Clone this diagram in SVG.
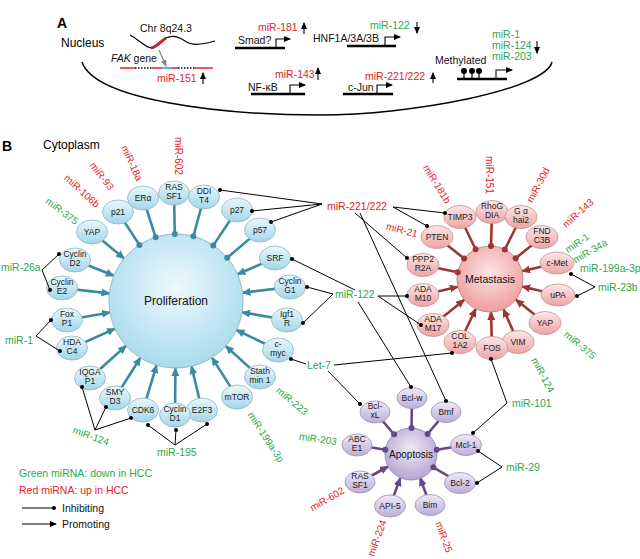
<svg xmlns="http://www.w3.org/2000/svg" width="640" height="559" viewBox="0 0 640 559">
<defs>
<style>
text{font-family:"Liberation Sans",Arial,Helvetica,sans-serif;}
.t{font-size:10.5px;fill:#111}
.mi{font-size:10.5px}
.mr{font-size:10px}
.g{fill:#2ea64e}
.r{fill:#e42228}
.nt{font-size:8.5px;fill:#1a1a1a;text-anchor:middle}
.k{stroke:#000;stroke-width:1;fill:none}
.bar{stroke:#000;stroke-width:2.6}
.pr{stroke:#000;stroke-width:1.1;fill:none}
.sb{stroke:#3b8aa3;stroke-width:2.6;fill:none}
.sp{stroke:#9e3535;stroke-width:2.6;fill:none}
.sv{stroke:#654886;stroke-width:2.6;fill:none}
.nb{fill:url(#lb);stroke:#8fb4c2;stroke-width:0.8}
.np{fill:url(#lp);stroke:#c49090;stroke-width:0.8}
.nv{fill:url(#lv);stroke:#9d8fb8;stroke-width:0.8}
</style>
<linearGradient id="lb" x1="0" y1="0" x2="0" y2="1"><stop offset="0" stop-color="#eaf8fc"/><stop offset="1" stop-color="#a3d6e9"/></linearGradient>
<linearGradient id="lp" x1="0" y1="0" x2="0" y2="1"><stop offset="0" stop-color="#fde8e8"/><stop offset="1" stop-color="#eda3a3"/></linearGradient>
<linearGradient id="lv" x1="0" y1="0" x2="0" y2="1"><stop offset="0" stop-color="#f0ebf7"/><stop offset="1" stop-color="#bcadd7"/></linearGradient>
<radialGradient id="cb" cx="50%" cy="40%" r="60%"><stop offset="0" stop-color="#eef9fd"/><stop offset="1" stop-color="#a9dbee"/></radialGradient>
<radialGradient id="cp" cx="50%" cy="40%" r="60%"><stop offset="0" stop-color="#fde4e4"/><stop offset="1" stop-color="#ef9e9e"/></radialGradient>
<radialGradient id="cv" cx="50%" cy="40%" r="60%"><stop offset="0" stop-color="#efe9f6"/><stop offset="1" stop-color="#b6a6d1"/></radialGradient>
<marker id="aB" markerUnits="userSpaceOnUse" markerWidth="9" markerHeight="8" refX="8" refY="4" orient="auto"><path d="M0,0 L9,4 L0,8 z" fill="#3b8aa3"/></marker>
<marker id="aP" markerUnits="userSpaceOnUse" markerWidth="9" markerHeight="8" refX="8" refY="4" orient="auto"><path d="M0,0 L9,4 L0,8 z" fill="#9e3535"/></marker>
<marker id="aV" markerUnits="userSpaceOnUse" markerWidth="9" markerHeight="8" refX="8" refY="4" orient="auto"><path d="M0,0 L9,4 L0,8 z" fill="#654886"/></marker>
<marker id="aK" markerUnits="userSpaceOnUse" markerWidth="7" markerHeight="6" refX="6" refY="3" orient="auto"><path d="M0,0 L7,3 L0,6 z" fill="#000"/></marker>
<marker id="aG" markerUnits="userSpaceOnUse" markerWidth="7" markerHeight="6" refX="6" refY="3" orient="auto"><path d="M0,0 L7,3 L0,6 z" fill="#888"/></marker>
</defs>
<rect width="640" height="559" fill="#fff"/>

<!-- Panel A -->
<g id="panelA">
<text x="57" y="28" style="font-size:14px;font-weight:bold">A</text>
<text x="61" y="47" style="font-size:12px">Nucleus</text>
<path d="M82,62 C95,100 220,115 320,115 C410,115 545,90 552,62" fill="none" stroke="#000" stroke-width="1.5"/>
<text x="140" y="32" class="t">Chr 8q24.3</text>
<path d="M130,35 C140,40 146,49 153,48 C158,47 162,40 166,38 C172,35 178,36 185,41 C192,46 200,45 215,41" fill="none" stroke="#000" stroke-width="1.2"/>
<path d="M151,48 C157,47 161,41 166,38" fill="none" stroke="#c0272d" stroke-width="3"/>
<line x1="159" y1="50" x2="166" y2="66" stroke="#888" stroke-width="1.2" marker-end="url(#aG)"/>
<text x="111" y="62" class="t"><tspan font-style="italic">FAK</tspan> gene</text>
<g stroke-width="1.5">
<line x1="120" y1="68" x2="135" y2="68" stroke="#e42228"/>
<line x1="135" y1="68" x2="152" y2="68" stroke="#000" stroke-dasharray="1.5,1.5"/>
<line x1="152" y1="68" x2="162" y2="68" stroke="#e42228"/>
<line x1="162" y1="68" x2="172" y2="68" stroke="#3a8fd0"/>
<line x1="172" y1="68" x2="178" y2="68" stroke="#e42228"/>
<line x1="178" y1="68" x2="195" y2="68" stroke="#000" stroke-dasharray="1.5,1.5"/>
<line x1="195" y1="68" x2="213" y2="68" stroke="#e42228"/>
</g>
<text x="157" y="82" class="mi r">miR-151</text>
<line x1="203" y1="84" x2="203" y2="73" class="pr" marker-end="url(#aK)"/>

<text x="258" y="31" class="mi r">miR-181</text>
<line x1="304" y1="34" x2="304" y2="23" class="pr" marker-end="url(#aK)"/>
<text x="238" y="44" class="t">Smad?</text>
<line x1="235" y1="48" x2="285" y2="48" class="bar"/>
<path d="M276,48 V39 H290" class="pr" marker-end="url(#aK)"/>

<text x="370" y="29" class="mi g">miR-122</text>
<line x1="417" y1="22" x2="417" y2="33" class="pr" marker-end="url(#aK)"/>
<text x="313" y="42" class="t">HNF1A/3A/3B</text>
<line x1="347" y1="46" x2="396" y2="46" class="bar"/>
<path d="M385,46 V37 H400" class="pr" marker-end="url(#aK)"/>

<text x="275" y="78" class="mi r">miR-143</text>
<line x1="318" y1="80" x2="318" y2="68" class="pr" marker-end="url(#aK)"/>
<text x="248" y="91" class="t">NF-κB</text>
<line x1="251" y1="94" x2="305" y2="94" class="bar"/>
<path d="M290,94 V85 H305" class="pr" marker-end="url(#aK)"/>

<text x="365" y="80" class="mi r">miR-221/222</text>
<line x1="433" y1="83" x2="433" y2="73" class="pr" marker-end="url(#aK)"/>
<text x="348" y="91" class="t">c-Jun</text>
<line x1="343" y1="94" x2="393" y2="94" class="bar"/>
<path d="M377,94 V85 H392" class="pr" marker-end="url(#aK)"/>

<text x="435" y="64" class="t">Methylated</text>
<line x1="457" y1="79" x2="507" y2="79" class="bar"/>
<g stroke="#000" stroke-width="1.2">
<line x1="464" y1="71" x2="464" y2="79"/><line x1="472" y1="71" x2="472" y2="79"/><line x1="479" y1="71" x2="479" y2="79"/>
</g>
<circle cx="464" cy="71" r="3"/><circle cx="472" cy="71" r="3"/><circle cx="479" cy="71" r="3"/>
<path d="M496,79 V70 H512" class="pr" marker-end="url(#aK)"/>
<text x="492" y="38" class="mi g">miR-1</text>
<text x="492" y="49" class="mi g">miR-124</text>
<text x="492" y="60" class="mi g">miR-203</text>
<line x1="537" y1="41" x2="537" y2="53" class="pr" marker-end="url(#aK)"/>
</g>

<text x="2" y="151" style="font-size:14px;font-weight:bold">B</text>
<text x="43" y="149" style="font-size:12px">Cytoplasm</text>

<!-- spokes -->
<g id="spokes">
<g class="sb">
<line x1="92" y1="232" x2="124.2" y2="258.5" marker-end="url(#aB)"/>
<line x1="118" y1="212" x2="139.4" y2="244.9"/>
<line x1="143" y1="198" x2="155.6" y2="237.2"/>
<line x1="174" y1="193" x2="174.8" y2="234"/>
<line x1="204" y1="197" x2="193.4" y2="236.3"/>
<line x1="237" y1="210" x2="213.3" y2="245.4"/>
<line x1="260" y1="230" x2="227.2" y2="257.8"/>
<line x1="275" y1="258" x2="237.5" y2="274.3" marker-end="url(#aB)"/>
<line x1="290" y1="287" x2="242.5" y2="292.8" marker-end="url(#aB)"/>
<line x1="287" y1="320" x2="242.1" y2="312.3" marker-end="url(#aB)"/>
<line x1="278" y1="350" x2="236.4" y2="330" marker-end="url(#aB)"/>
<line x1="260" y1="377" x2="225.7" y2="346" marker-end="url(#aB)"/>
<line x1="237" y1="397" x2="211.9" y2="357.6" marker-end="url(#aB)"/>
<line x1="202" y1="410" x2="191.5" y2="366.2" marker-end="url(#aB)"/>
<line x1="175" y1="415" x2="175.4" y2="368" marker-end="url(#aB)"/>
<line x1="143" y1="410" x2="156.6" y2="365.1" marker-end="url(#aB)"/>
<line x1="115" y1="398" x2="140.4" y2="357.7" marker-end="url(#aB)"/>
<line x1="90" y1="378" x2="126.1" y2="345.7" marker-end="url(#aB)"/>
<line x1="72" y1="348" x2="115" y2="328.6" marker-end="url(#aB)"/>
<line x1="67" y1="320" x2="110" y2="312.5" marker-end="url(#aB)"/>
<line x1="62" y1="288" x2="109.4" y2="293.4" marker-end="url(#aB)"/>
<line x1="75" y1="260" x2="113.9" y2="275.8" marker-end="url(#aB)"/>
</g>
<g class="sp">
<line x1="460" y1="217" x2="475.6" y2="249.3"/>
<line x1="492" y1="212" x2="491" y2="246"/>
<line x1="521" y1="217" x2="504.8" y2="249.5"/>
<line x1="542" y1="237" x2="515.7" y2="258.2"/>
<line x1="557" y1="263" x2="522.1" y2="271.3" marker-end="url(#aP)"/>
<line x1="558" y1="295" x2="522.1" y2="286.6" marker-end="url(#aP)"/>
<line x1="545" y1="323" x2="515.8" y2="299.6" marker-end="url(#aP)"/>
<line x1="518" y1="342" x2="503.4" y2="309.2" marker-end="url(#aP)"/>
<line x1="492" y1="348" x2="491" y2="312" marker-end="url(#aP)"/>
<line x1="460" y1="342" x2="475.8" y2="308.8" marker-end="url(#aP)"/>
<line x1="433" y1="325" x2="464.3" y2="299.7" marker-end="url(#aP)"/>
<line x1="423" y1="295" x2="457.9" y2="286.7" marker-end="url(#aP)"/>
<line x1="423" y1="265" x2="457.7" y2="272.2"/>
<line x1="437" y1="237" x2="464.1" y2="258.5"/>
</g>
<g class="sv">
<line x1="375" y1="412" x2="394.1" y2="434.3"/>
<line x1="412" y1="398" x2="411.5" y2="428"/>
<line x1="446" y1="412" x2="427.6" y2="434"/>
<line x1="466" y1="445" x2="436.7" y2="449.8"/>
<line x1="460" y1="483" x2="433.4" y2="467.3"/>
<line x1="430" y1="505" x2="420.1" y2="477.8" marker-end="url(#aV)"/>
<line x1="390" y1="506" x2="400.3" y2="478.1" marker-end="url(#aV)"/>
<line x1="360" y1="482" x2="388.2" y2="466.5" marker-end="url(#aV)"/>
<line x1="357" y1="445" x2="385.3" y2="449.7"/>
</g>
</g>

<!-- hubs -->
<g id="proliferation">
<circle cx="176" cy="301" r="67" fill="url(#cb)" stroke="#93b9c6" stroke-width="1"/>
<text x="176" y="305" style="font-size:12px;text-anchor:middle;fill:#111">Proliferation</text>
</g>
<g id="metastasis">
<circle cx="490" cy="279" r="33" fill="url(#cp)" stroke="#c48a8a" stroke-width="1"/>
<text x="490" y="283" style="font-size:10.5px;text-anchor:middle;fill:#111">Metastasis</text>
</g>
<g id="apoptosis">
<circle cx="411" cy="454" r="26" fill="url(#cv)" stroke="#9c8db7" stroke-width="1"/>
<text x="411" y="457.5" style="font-size:10px;text-anchor:middle;fill:#111">Apoptosis</text>
</g>

<!-- spoke dots on hubs -->
<g id="hubdots">
<g fill="#3b8aa3">
<circle cx="139.4" cy="244.9" r="3"/><circle cx="155.6" cy="237.2" r="3"/><circle cx="174.8" cy="234" r="3"/><circle cx="193.4" cy="236.3" r="3"/><circle cx="213.3" cy="245.4" r="3"/><circle cx="227.2" cy="257.8" r="3"/>
</g>
<g fill="#9e3535">
<circle cx="475.6" cy="249.3" r="3"/><circle cx="491" cy="246" r="3"/><circle cx="504.8" cy="249.5" r="3"/><circle cx="515.7" cy="258.2" r="3"/><circle cx="457.7" cy="272.2" r="3"/><circle cx="464.1" cy="258.5" r="3"/>
</g>
<g fill="#654886">
<circle cx="394.1" cy="434.3" r="3"/><circle cx="411.5" cy="428" r="3"/><circle cx="427.6" cy="434" r="3"/><circle cx="436.7" cy="449.8" r="3"/><circle cx="433.4" cy="467.3" r="3"/><circle cx="385.3" cy="449.7" r="3"/>
</g>
</g>

<!-- proliferation nodes -->
<g id="n-yap1"><ellipse cx="92" cy="232" rx="15.5" ry="12" class="nb"/><text x="92" y="235" class="nt">YAP</text></g>
<g id="n-p21"><ellipse cx="118" cy="212" rx="15.5" ry="12" class="nb"/><text x="118" y="215" class="nt">p21</text></g>
<g id="n-era"><ellipse cx="143" cy="198" rx="15.5" ry="12" class="nb"/><text x="143" y="201" class="nt">ERα</text></g>
<g id="n-rassf1a"><ellipse cx="174" cy="193" rx="15.5" ry="12" class="nb"/><text x="174" y="190" class="nt">RAS</text><text x="174" y="199" class="nt">SF1</text></g>
<g id="n-ddit4"><ellipse cx="204" cy="197" rx="15.5" ry="12" class="nb"/><text x="204" y="194" class="nt">DDI</text><text x="204" y="203" class="nt">T4</text></g>
<g id="n-p27"><ellipse cx="237" cy="210" rx="15.5" ry="12" class="nb"/><text x="237" y="213" class="nt">p27</text></g>
<g id="n-p57"><ellipse cx="260" cy="230" rx="15.5" ry="12" class="nb"/><text x="260" y="233" class="nt">p57</text></g>
<g id="n-srf"><ellipse cx="275" cy="258" rx="15.5" ry="12" class="nb"/><text x="275" y="261" class="nt">SRF</text></g>
<g id="n-ccng1"><ellipse cx="290" cy="287" rx="15.5" ry="12" class="nb"/><text x="290" y="284" class="nt">Cyclin</text><text x="290" y="293" class="nt">G1</text></g>
<g id="n-igf1r"><ellipse cx="287" cy="320" rx="15.5" ry="12" class="nb"/><text x="287" y="317" class="nt">Igf1</text><text x="287" y="326" class="nt">R</text></g>
<g id="n-cmyc"><ellipse cx="278" cy="350" rx="15.5" ry="12" class="nb"/><text x="278" y="347" class="nt">c-</text><text x="278" y="356" class="nt">myc</text></g>
<g id="n-stmn1"><ellipse cx="260" cy="377" rx="15.5" ry="12" class="nb"/><text x="260" y="374" class="nt">Stath</text><text x="260" y="383" class="nt">min 1</text></g>
<g id="n-mtor"><ellipse cx="237" cy="397" rx="15.5" ry="12" class="nb"/><text x="237" y="400" class="nt">mTOR</text></g>
<g id="n-e2f3"><ellipse cx="202" cy="410" rx="15.5" ry="12" class="nb"/><text x="202" y="413" class="nt">E2F3</text></g>
<g id="n-ccnd1"><ellipse cx="175" cy="415" rx="15.5" ry="12" class="nb"/><text x="175" y="412" class="nt">Cyclin</text><text x="175" y="421" class="nt">D1</text></g>
<g id="n-cdk6"><ellipse cx="143" cy="410" rx="15.5" ry="12" class="nb"/><text x="143" y="413" class="nt">CDK6</text></g>
<g id="n-smyd3"><ellipse cx="115" cy="398" rx="15.5" ry="12" class="nb"/><text x="115" y="395" class="nt">SMY</text><text x="115" y="404" class="nt">D3</text></g>
<g id="n-iqgap1"><ellipse cx="90" cy="378" rx="15.5" ry="12" class="nb"/><text x="90" y="375" class="nt">IQGA</text><text x="90" y="384" class="nt">P1</text></g>
<g id="n-hdac4"><ellipse cx="72" cy="348" rx="15.5" ry="12" class="nb"/><text x="72" y="345" class="nt">HDA</text><text x="72" y="354" class="nt">C4</text></g>
<g id="n-foxp1"><ellipse cx="67" cy="320" rx="15.5" ry="12" class="nb"/><text x="67" y="317" class="nt">Fox</text><text x="67" y="326" class="nt">P1</text></g>
<g id="n-ccne2"><ellipse cx="62" cy="288" rx="15.5" ry="12" class="nb"/><text x="62" y="285" class="nt">Cyclin</text><text x="62" y="294" class="nt">E2</text></g>
<g id="n-ccnd2"><ellipse cx="75" cy="260" rx="15.5" ry="12" class="nb"/><text x="75" y="257" class="nt">Cyclin</text><text x="75" y="266" class="nt">D2</text></g>

<!-- metastasis nodes -->
<g id="n-timp3"><ellipse cx="460" cy="217" rx="16" ry="11.5" class="np"/><text x="460" y="220" class="nt">TIMP3</text></g>
<g id="n-rhogdia"><ellipse cx="492" cy="212" rx="16" ry="11.5" class="np"/><text x="492" y="209" class="nt">RhoG</text><text x="492" y="218" class="nt">DIA</text></g>
<g id="n-gnai2"><ellipse cx="521" cy="217" rx="16" ry="11.5" class="np"/><text x="521" y="214" class="nt">G α</text><text x="521" y="223" class="nt">hai2</text></g>
<g id="n-fndc3b"><ellipse cx="542" cy="237" rx="16" ry="11.5" class="np"/><text x="542" y="234" class="nt">FND</text><text x="542" y="243" class="nt">C3B</text></g>
<g id="n-cmet"><ellipse cx="557" cy="263" rx="17" ry="11" class="np"/><text x="557" y="266" class="nt">c-Met</text></g>
<g id="n-upa"><ellipse cx="558" cy="295" rx="17" ry="11" class="np"/><text x="558" y="298" class="nt">uPA</text></g>
<g id="n-yap2"><ellipse cx="545" cy="323" rx="16" ry="11.5" class="np"/><text x="545" y="326" class="nt">YAP</text></g>
<g id="n-vim"><ellipse cx="518" cy="342" rx="16" ry="11.5" class="np"/><text x="518" y="345" class="nt">VIM</text></g>
<g id="n-fos"><ellipse cx="492" cy="348" rx="16" ry="11.5" class="np"/><text x="492" y="351" class="nt">FOS</text></g>
<g id="n-col1a2"><ellipse cx="460" cy="342" rx="16" ry="11.5" class="np"/><text x="460" y="339" class="nt">COL</text><text x="460" y="348" class="nt">1A2</text></g>
<g id="n-adam17"><ellipse cx="433" cy="325" rx="16" ry="11.5" class="np"/><text x="433" y="322" class="nt">ADA</text><text x="433" y="331" class="nt">M17</text></g>
<g id="n-adam10"><ellipse cx="423" cy="295" rx="16" ry="11.5" class="np"/><text x="423" y="292" class="nt">ADA</text><text x="423" y="301" class="nt">M10</text></g>
<g id="n-ppp2r2a"><ellipse cx="423" cy="265" rx="16" ry="11.5" class="np"/><text x="423" y="262" class="nt">PPP2</text><text x="423" y="271" class="nt">R2A</text></g>
<g id="n-pten"><ellipse cx="437" cy="237" rx="16" ry="11.5" class="np"/><text x="437" y="240" class="nt">PTEN</text></g>

<!-- apoptosis nodes -->
<g id="n-bclxl"><ellipse cx="375" cy="412" rx="15" ry="11" class="nv"/><text x="375" y="409" class="nt">Bcl-</text><text x="375" y="418" class="nt">xL</text></g>
<g id="n-bclw"><ellipse cx="412" cy="398" rx="15" ry="10.5" class="nv"/><text x="412" y="401" class="nt">Bcl-w</text></g>
<g id="n-bmf"><ellipse cx="446" cy="412" rx="15" ry="10.5" class="nv"/><text x="446" y="415" class="nt">Bmf</text></g>
<g id="n-mcl1"><ellipse cx="466" cy="445" rx="15.5" ry="10.5" class="nv"/><text x="466" y="448" class="nt">Mcl-1</text></g>
<g id="n-bcl2"><ellipse cx="460" cy="483" rx="15.5" ry="10.5" class="nv"/><text x="460" y="486" class="nt">Bcl-2</text></g>
<g id="n-bim"><ellipse cx="430" cy="505" rx="15" ry="10.5" class="nv"/><text x="430" y="508" class="nt">Bim</text></g>
<g id="n-api5"><ellipse cx="390" cy="506" rx="15.5" ry="11" class="nv"/><text x="390" y="509" class="nt">API-5</text></g>
<g id="n-rassf1b"><ellipse cx="360" cy="482" rx="15" ry="11" class="nv"/><text x="360" y="479" class="nt">RAS</text><text x="360" y="488" class="nt">SF1</text></g>
<g id="n-abce1"><ellipse cx="357" cy="445" rx="15" ry="11" class="nv"/><text x="357" y="442" class="nt">ABC</text><text x="357" y="451" class="nt">E1</text></g>

<!-- miRNA connectors -->
<g id="connectors">
<g class="k">
<path d="M220,190 L322,204 M252,211 L322,204 M271,222 L322,204"/>
<path d="M445,213 L393,207 L427,226"/>
<path d="M355,213 L407,258 M360,213 L446,401"/>
<path d="M59,254 L42,270 L50,290"/>
<path d="M51,320 L36,336 L60,351"/>
<path d="M82,387 L95,430 L106,407 M95,430 L131,418"/>
<path d="M148,425 L175,445 L176,430 M175,445 L207,424"/>
<path d="M291,359 L306,364 M334,365 L452,353 M328,371 L360,404"/>
<path d="M292,259 L355,290 M307,287 L333,294 L303,323"/>
<path d="M407,296 L378,296 L421,325 M358,302 L411,387"/>
<path d="M491,359 L507,403 L473,433"/>
<path d="M571,274 L595,287 L577,296"/>
<path d="M478,451 L502,467 L477,483"/>
</g>
<g fill="#000">
<circle cx="220" cy="190" r="2"/><circle cx="252" cy="211" r="2"/><circle cx="271" cy="222" r="2"/>
<circle cx="445" cy="213" r="2"/><circle cx="427" cy="226" r="2"/><circle cx="407" cy="258" r="2"/><circle cx="446" cy="401" r="2"/>
<circle cx="59" cy="254" r="2"/><circle cx="50" cy="290" r="2"/>
<circle cx="51" cy="320" r="2"/><circle cx="60" cy="351" r="2"/>
<circle cx="82" cy="387" r="2"/><circle cx="106" cy="407" r="2"/><circle cx="131" cy="418" r="2"/>
<circle cx="148" cy="425" r="2"/><circle cx="176" cy="430" r="2"/><circle cx="207" cy="424" r="2"/>
<circle cx="291" cy="359" r="2"/><circle cx="452" cy="353" r="2"/><circle cx="360" cy="404" r="2"/>
<circle cx="292" cy="259" r="2"/><circle cx="307" cy="287" r="2"/><circle cx="303" cy="323" r="2"/>
<circle cx="407" cy="296" r="2"/><circle cx="421" cy="325" r="2"/><circle cx="411" cy="387" r="2"/>
<circle cx="491" cy="359" r="2"/><circle cx="473" cy="433" r="2"/>
<circle cx="571" cy="274" r="2"/><circle cx="577" cy="296" r="2"/>
<circle cx="478" cy="451" r="2"/><circle cx="477" cy="483" r="2"/>
</g>
</g>

<!-- miRNA labels -->
<g id="mirnas" text-anchor="middle">
<text class="mr g" transform="translate(62,211) rotate(37)" dy="3.5">miR-375</text>
<text class="mr r" transform="translate(82,191) rotate(42)" dy="3.5">miR-106b</text>
<text class="mr r" transform="translate(102,176) rotate(52)" dy="3.5">miR-93</text>
<text class="mr r" transform="translate(132,163) rotate(66)" dy="3.5">miR-18a</text>
<text class="mr r" transform="translate(178,156) rotate(90)" dy="3.5">miR-602</text>
<text class="mr g" transform="translate(91,436) rotate(20)" dy="3.5">miR-124</text>
<text class="mr g" transform="translate(266,437) rotate(57)" dy="3.5">miR-199a-3p</text>
<text class="mr g" transform="translate(292,401) rotate(40)" dy="3.5">miR-223</text>
<text class="mr g" transform="translate(318,439) rotate(8)" dy="3.5">miR-203</text>
<text class="mr r" transform="translate(437,184) rotate(58)" dy="3.5">miR-181b</text>
<text class="mr r" transform="translate(489,175) rotate(90)" dy="3.5">miR-151</text>
<text class="mr r" transform="translate(538,185) rotate(-62)" dy="3.5">miR-30d</text>
<text class="mr r" transform="translate(578,213) rotate(-42)" dy="3.5">miR-143</text>
<text class="mr r" transform="translate(402,230) rotate(15)" dy="3.5">miR-21</text>
<text class="mr g" transform="translate(577,243) rotate(-35)" dy="3.5">miR-1</text>
<text class="mr g" transform="translate(590,251) rotate(-30)" dy="3.5">miR-34a</text>
<text class="mr g" transform="translate(580,345) rotate(40)" dy="3.5">miR-375</text>
<text class="mr g" transform="translate(543,375) rotate(62)" dy="3.5">miR-124</text>
<text class="mr r" transform="translate(327,499) rotate(-30)" dy="3.5">miR-602</text>
<text class="mr r" transform="translate(377,538) rotate(-70)" dy="3.5">miR-224</text>
<text class="mr r" transform="translate(444,537) rotate(70)" dy="3.5">miR-25</text>
</g>
<g id="mirnas-h">
<text x="1" y="271" class="mi g">miR-26a</text>
<text x="5" y="344" class="mi g">miR-1</text>
<text x="157" y="456" class="mi g">miR-195</text>
<text x="307" y="369" class="mi g">Let-7</text>
<text x="335" y="298" class="mi g">miR-122</text>
<text x="327" y="210" class="mi r">miR-221/222</text>
<text x="580" y="272" class="mi g">miR-199a-3p</text>
<text x="598" y="291" class="mi g">miR-23b</text>
<text x="512" y="407" class="mi g">miR-101</text>
<text x="506" y="471" class="mi g">miR-29</text>
</g>

<!-- legend -->
<g id="legend">
<text x="19" y="477" class="mi g">Green miRNA: down in HCC</text>
<text x="19" y="494" class="mi r">Red miRNA: up in HCC</text>
<line x1="22" y1="508" x2="54" y2="508" stroke="#000" stroke-width="1"/>
<circle cx="54" cy="508" r="2"/>
<text x="62" y="512" class="t">Inhibiting</text>
<line x1="22" y1="524" x2="56" y2="524" stroke="#000" stroke-width="1" marker-end="url(#aK)"/>
<text x="62" y="528" class="t">Promoting</text>
</g>
</svg>
